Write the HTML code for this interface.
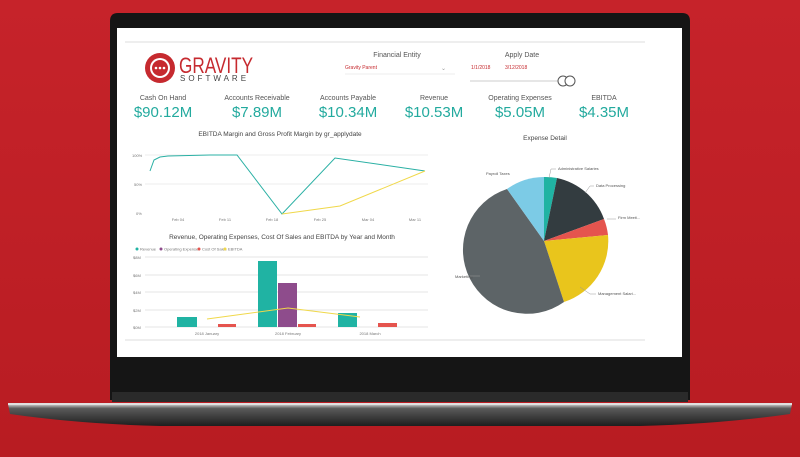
<!DOCTYPE html>
<html><head><meta charset="utf-8"><style>
html,body{margin:0;padding:0;background:#c11f26;}
svg{display:block;}
text{font-family:"Liberation Sans",sans-serif;}
</style></head><body>
<svg width="800" height="457" viewBox="0 0 800 457" xmlns="http://www.w3.org/2000/svg">
<defs>
<linearGradient id="bg" x1="0" y1="0" x2="0" y2="1"><stop offset="0" stop-color="#c6232a"/><stop offset="1" stop-color="#b81c22"/></linearGradient>
<linearGradient id="base" x1="0" y1="0" x2="0" y2="1"><stop offset="0" stop-color="#d8d8d8"/><stop offset="0.2" stop-color="#5a5a5a"/><stop offset="1" stop-color="#1e1e1e"/></linearGradient>
</defs>
<rect width="800" height="457" fill="url(#bg)"/>
<path d="M118 13 H682 Q690 13 690 21 V400 H110 V21 Q110 13 118 13Z" fill="#151515"/>
<rect x="112" y="392" width="576" height="10" fill="#2a2a2a"/>
<path d="M8 404 H792 L790 414 Q720 424 640 426 H160 Q80 424 10 414Z" fill="url(#base)"/>
<rect x="8" y="403" width="784" height="2" fill="#e0e0e0"/>
<rect x="117" y="28" width="565" height="329" fill="#ffffff"/>
<line x1="125" y1="42" x2="645" y2="42" stroke="#ddd" stroke-width="1"/>
<line x1="125" y1="340" x2="645" y2="340" stroke="#ddd" stroke-width="1"/>
<circle cx="160" cy="68" r="15" fill="#c62a2f"/>
<circle cx="160" cy="68" r="10" fill="#fff"/>
<circle cx="160" cy="68" r="8" fill="#c62a2f"/>
<circle cx="156" cy="68" r="1.3" fill="#fff"/><circle cx="160" cy="68" r="1.3" fill="#fff"/><circle cx="164" cy="68" r="1.3" fill="#fff"/>
<text transform="translate(179,73) scale(0.78,1)" font-size="22" fill="#c62a2f">GRAVITY</text>
<text x="180" y="81" font-size="8" fill="#444" letter-spacing="3">SOFTWARE</text>
<text x="397" y="57" font-size="7" fill="#555" text-anchor="middle">Financial Entity</text>
<text x="345" y="69" font-size="5" fill="#c62a2f">Gravity Parent</text>
<text x="441" y="70" font-size="6" fill="#999">⌄</text>
<line x1="345" y1="74" x2="455" y2="74" stroke="#eee"/>
<text x="522" y="57" font-size="7" fill="#555" text-anchor="middle">Apply Date</text>
<text x="471" y="69" font-size="5" fill="#c62a2f">1/1/2018</text>
<text x="505" y="69" font-size="5" fill="#c62a2f">3/12/2018</text>
<line x1="470" y1="81" x2="563" y2="81" stroke="#ccc"/>
<circle cx="563" cy="81" r="5" fill="#fff" stroke="#555"/>
<circle cx="570" cy="81" r="5" fill="#fff" stroke="#555"/>
<g font-size="7" fill="#555" text-anchor="middle">
<text x="163" y="100">Cash On Hand</text><text x="257" y="100">Accounts Receivable</text><text x="348" y="100">Accounts Payable</text><text x="434" y="100">Revenue</text><text x="520" y="100">Operating Expenses</text><text x="604" y="100">EBITDA</text>
</g>
<g font-size="15" fill="#23aa9e" text-anchor="middle">
<text x="163" y="117">$90.12M</text><text x="257" y="117">$7.89M</text><text x="348" y="117">$10.34M</text><text x="434" y="117">$10.53M</text><text x="520" y="117">$5.05M</text><text x="604" y="117">$4.35M</text>
</g>
<text x="280" y="136" font-size="6.5" fill="#444" text-anchor="middle">EBITDA Margin and Gross Profit Margin by gr_applydate</text>
<g stroke="#eee"><line x1="145" y1="155" x2="428" y2="155"/><line x1="145" y1="184" x2="428" y2="184"/></g>
<g font-size="4" fill="#777"><text x="132" y="157">100%</text><text x="134" y="186">50%</text><text x="136" y="215">0%</text></g>
<g font-size="4" fill="#777" text-anchor="middle"><text x="178" y="221">Feb 04</text><text x="225" y="221">Feb 11</text><text x="272" y="221">Feb 18</text><text x="320" y="221">Feb 25</text><text x="368" y="221">Mar 04</text><text x="415" y="221">Mar 11</text></g>
<polyline points="150,171 154,160 160,157 168,156 210,155 237,155 282,214 335,158 425,171" fill="none" stroke="#2ab0a4" stroke-width="1"/>
<polyline points="282,214 340,206 425,171" fill="none" stroke="#f0d84a" stroke-width="1"/>
<text x="282" y="239" font-size="6.5" fill="#444" text-anchor="middle">Revenue, Operating Expenses, Cost Of Sales and EBITDA by Year and Month</text>
<g font-size="4" fill="#777">
<circle cx="137" cy="249" r="1.5" fill="#20b3a3"/><text x="140" y="250.5">Revenue</text>
<circle cx="161" cy="249" r="1.5" fill="#8e4c8c"/><text x="164" y="250.5">Operating Expenses</text>
<circle cx="199" cy="249" r="1.5" fill="#e5544e"/><text x="202" y="250.5">Cost Of Sales</text>
<circle cx="225" cy="249" r="1.5" fill="#f0d84a"/><text x="228" y="250.5">EBITDA</text>
</g>
<g stroke="#e4e4e4"><line x1="145" y1="257" x2="428" y2="257"/><line x1="145" y1="275" x2="428" y2="275"/><line x1="145" y1="292" x2="428" y2="292"/><line x1="145" y1="310" x2="428" y2="310"/><line x1="145" y1="327" x2="428" y2="327"/></g>
<g font-size="4" fill="#777"><text x="133" y="259">$8M</text><text x="133" y="277">$6M</text><text x="133" y="294">$4M</text><text x="133" y="312">$2M</text><text x="133" y="329">$0M</text></g>
<rect x="177" y="317" width="20" height="10" fill="#20b3a3"/>
<rect x="218" y="324" width="18" height="3" fill="#e5544e"/>
<rect x="258" y="261" width="19" height="66" fill="#20b3a3"/>
<rect x="278" y="283" width="19" height="44" fill="#8e4c8c"/>
<rect x="298" y="324" width="18" height="3" fill="#e5544e"/>
<rect x="338" y="313" width="19" height="14" fill="#20b3a3"/>
<rect x="378" y="323" width="19" height="4" fill="#e5544e"/>
<polyline points="207,319 288,308 360,317" fill="none" stroke="#f0d84a" stroke-width="1"/>
<g font-size="4" fill="#777" text-anchor="middle"><text x="207" y="335">2018 January</text><text x="288" y="335">2018 February</text><text x="370" y="335">2018 March</text></g>
<text x="545" y="140" font-size="6.5" fill="#444" text-anchor="middle">Expense Detail</text>
<g transform="translate(544,241)">
<path d="M0 0 L0 -64 A64 64 0 0 1 13 -63Z" fill="#20b3a3"/>
<path d="M0 0 L13 -63 A64 64 0 0 1 60 -22Z" fill="#333c40"/>
<path d="M0 0 L60 -22 A64 64 0 0 1 64 -6Z" fill="#e5544e"/>
<path d="M0 0 L64 -6 A64 64 0 0 1 20 61Z" fill="#e9c51c"/>
<path d="M0 0 L20 61 A64 64 0 1 1 -37 -52Z" fill="#5d6467"/>
<path d="M0 0 L-37 -52 A64 64 0 0 1 0 -64Z" fill="#7ccbe6"/>
</g>
<g font-size="4" fill="#555" stroke="none">
<text x="486" y="175">Payroll Taxes</text><text x="558" y="170">Administrative Salaries</text><text x="596" y="187">Data Processing</text><text x="618" y="219">Firm Meeti...</text><text x="455" y="278">Marketing</text><text x="598" y="295">Management Salari...</text>
</g>
<g fill="none" stroke="#999" stroke-width="0.5"><path d="M549 178 L551 169 H556"/><path d="M585 193 L590 186 H594"/><path d="M607 219 H616"/><path d="M470 276 H480"/><path d="M580 287 L590 294 H596"/></g>
</svg>
</body></html>
